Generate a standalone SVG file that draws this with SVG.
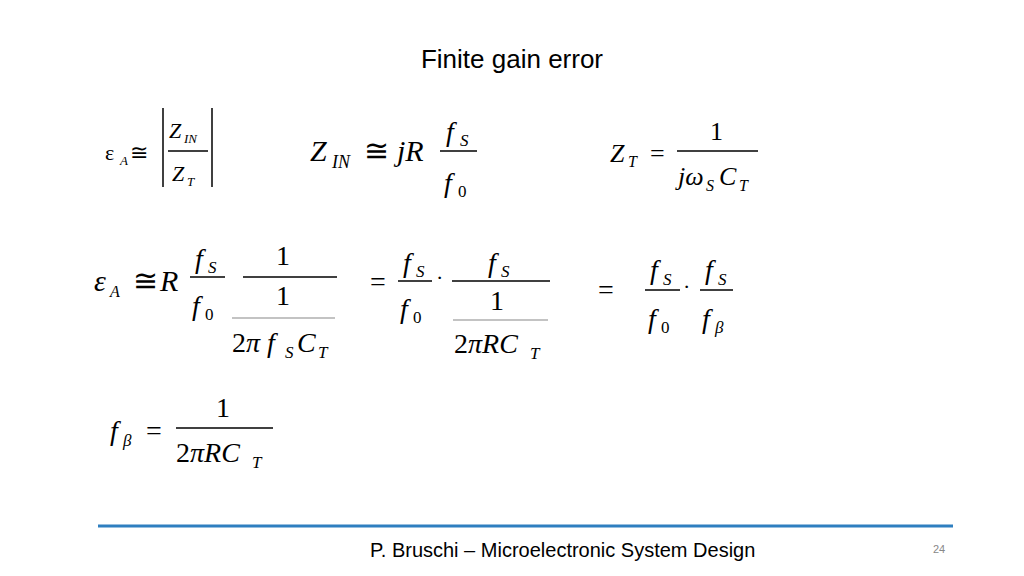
<svg xmlns="http://www.w3.org/2000/svg" width="1024" height="576" viewBox="0 0 1024 576">
<style>
.m{font-family:"Liberation Serif","Times New Roman",serif;fill:#000}
.i{font-style:italic}
.fl{stroke:#000;stroke-width:1.5}
.gl{stroke:#888;stroke-width:1.2}
.s{font-family:"Liberation Sans",Arial,sans-serif}
</style>
<rect width="1024" height="576" fill="#fff"/>
<text class="s" x="512" y="68" font-size="26" text-anchor="middle">Finite gain error</text>
<g id="eq1" class="m">
<text x="105" y="160" font-size="22">ε</text><text x="120" y="165" font-size="13" class="i">A</text>
<text x="130" y="160" font-size="22">≅</text>
<line x1="163" y1="108" x2="163" y2="187" class="fl"/><line x1="212" y1="108" x2="212" y2="187" class="fl"/>
<text x="169" y="138" font-size="22" class="i">Z</text><text x="184" y="143" font-size="13" class="i">IN</text>
<line x1="168" y1="151" x2="208" y2="151" class="fl"/>
<text x="172" y="181" font-size="22" class="i">Z</text><text x="187" y="186" font-size="13" class="i">T</text>
</g>
<g id="eq2" class="m">
<text x="310" y="161" font-size="30" class="i">Z</text><text x="332" y="168" font-size="18" class="i">IN</text>
<text x="364" y="161" font-size="30">≅</text>
<text x="397" y="161" font-size="30" class="i">jR</text>
<text x="446" y="141" font-size="28" class="i">f</text><text x="460" y="146" font-size="17" class="i">S</text>
<line x1="440" y1="151" x2="477" y2="151" class="fl"/>
<text x="444" y="192" font-size="28" class="i">f</text><text x="458" y="197" font-size="17">0</text>
</g>
<g id="eq3" class="m">
<text x="610" y="162" font-size="26" class="i">Z</text><text x="628" y="167" font-size="16" class="i">T</text>
<text x="650" y="162" font-size="26">=</text>
<text x="710" y="140" font-size="26">1</text>
<line x1="677" y1="151" x2="758" y2="151" class="fl"/>
<text x="678" y="185" font-size="26" class="i">jω</text><text x="706" y="191" font-size="16" class="i">S</text>
<text x="719" y="185" font-size="26" class="i">C</text><text x="739" y="191" font-size="16" class="i">T</text>
</g>
<g id="eq4" class="m">
<text x="94" y="291" font-size="30" class="i">ε</text><text x="110" y="297" font-size="16" class="i">A</text>
<text x="133" y="291" font-size="30">≅</text>
<text x="160" y="291" font-size="30" class="i">R</text>
<text x="195" y="268" font-size="28" class="i">f</text><text x="208" y="273" font-size="17" class="i">S</text>
<line x1="190" y1="277" x2="225" y2="277" class="fl"/>
<text x="192" y="315" font-size="28" class="i">f</text><text x="205" y="320" font-size="17">0</text>
<text x="276" y="265" font-size="28">1</text>
<line x1="243" y1="277" x2="337" y2="277" class="fl"/>
<text x="276" y="305" font-size="28">1</text>
<line x1="232" y1="318" x2="335" y2="318" class="gl"/>
<text x="232" y="352" font-size="28">2<tspan class="i">π f</tspan></text><text x="285" y="358" font-size="17" class="i">S</text>
<text x="297" y="352" font-size="28" class="i">C</text><text x="318" y="358" font-size="17" class="i">T</text>
</g>
<g id="eq5" class="m">
<text x="370" y="291" font-size="28">=</text>
<text x="403" y="272" font-size="28" class="i">f</text><text x="416" y="277" font-size="17" class="i">S</text>
<line x1="398" y1="281" x2="432" y2="281" class="fl"/>
<text x="400" y="318" font-size="28" class="i">f</text><text x="413" y="323" font-size="17">0</text>
<text x="436" y="285" font-size="22">·</text>
<text x="488" y="272" font-size="28" class="i">f</text><text x="501" y="277" font-size="17" class="i">S</text>
<line x1="452" y1="281" x2="550" y2="281" class="fl"/>
<text x="490" y="310" font-size="28">1</text>
<line x1="453" y1="320" x2="548" y2="320" class="gl"/>
<text x="454" y="353" font-size="28">2<tspan class="i">πRC</tspan></text><text x="530" y="359" font-size="17" class="i">T</text>
</g>
<g id="eq6" class="m">
<text x="598" y="299" font-size="28">=</text>
<text x="650" y="279" font-size="28" class="i">f</text><text x="663" y="285" font-size="17" class="i">S</text>
<line x1="645" y1="290" x2="680" y2="290" class="fl"/>
<text x="648" y="328" font-size="28" class="i">f</text><text x="661" y="333" font-size="17">0</text>
<text x="683" y="294" font-size="22">·</text>
<text x="705" y="279" font-size="28" class="i">f</text><text x="718" y="285" font-size="17" class="i">S</text>
<line x1="700" y1="290" x2="733" y2="290" class="fl"/>
<text x="702" y="328" font-size="28" class="i">f</text><text x="715" y="333" font-size="17" class="i">β</text>
</g>
<g id="eq7" class="m">
<text x="110" y="440" font-size="28" class="i">f</text><text x="123" y="446" font-size="17" class="i">β</text>
<text x="146" y="440" font-size="28">=</text>
<text x="216" y="417" font-size="28">1</text>
<line x1="176" y1="428" x2="273" y2="428" class="fl"/>
<text x="176" y="462" font-size="28">2<tspan class="i">πRC</tspan></text><text x="252" y="468" font-size="17" class="i">T</text>
</g>
<g id="footer">
<line x1="98" y1="526" x2="953" y2="526" stroke="#2e7fc0" stroke-width="3"/>
<text class="s" x="370" y="557" font-size="20" fill="#000">P. Bruschi – Microelectronic System Design</text>
<text class="s" x="939" y="553" font-size="11" fill="#888" text-anchor="middle">24</text>
</g>
</svg>
